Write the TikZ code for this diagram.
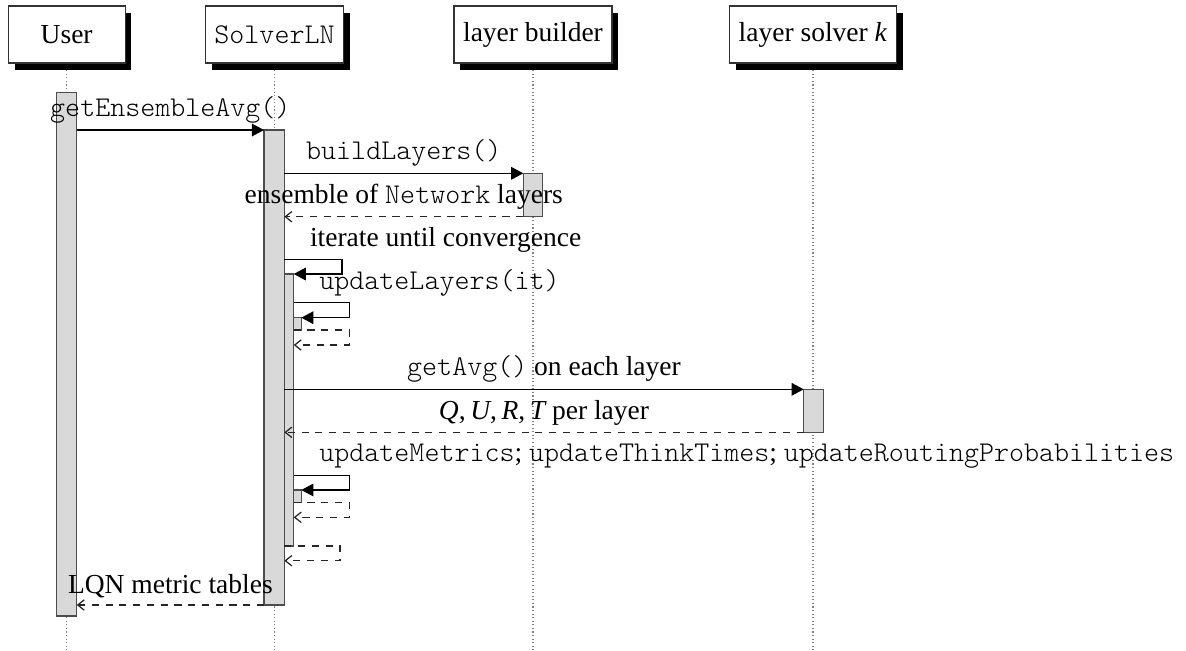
\documentclass[tikz,border=0pt]{standalone}
\usepackage{fontspec}
\setmainfont{Liberation Serif}
\setmonofont{lmmonolt10-regular.otf}[Scale=1.04]
\usetikzlibrary{arrows.meta,shadows,calc}
\newdimen\pxu
\pxu=0.363636pt
% activation bar: name, left x, top y, width, height (in pixel units)
\newcommand\actbox[5]{\node[actbar, minimum width=#4\pxu, minimum height=#5\pxu] (#1) at (#2,#3) {};}
\tikzset{
  thread/.style={draw=black!80, fill=white, minimum width=42.5pt, minimum height=20.7pt,
    inner sep=3.33pt, outer sep=0pt,
    drop shadow={shadow xshift=2.3pt, shadow yshift=-2.5pt, fill=black, opacity=1}},
  actbar/.style={draw=black!70, fill=gray!30, inner sep=0pt, outer sep=0pt, anchor=north west},
  lifeline/.style={draw=gray, dash pattern=on 0.4pt off 0.9pt},
  call/.style={draw=black, -{Triangle[length=4.4pt,width=4.6pt]}},
  ret/.style={draw=black!85, line width=0.45pt, dash pattern=on 2.6pt off 2.4pt, -{Straight Barb[length=2.4pt,width=3.8pt]}},
  lbl/.style={above, yshift=-1pt, inner sep=3.33pt},
  selflbl/.style={anchor=south west, yshift=-1pt, inner sep=3.33pt}
}
\begin{document}
\begin{tikzpicture}[x=\pxu, y=-\pxu]
\useasboundingbox (0,0) rectangle (1186,650);

% lifelines
\coordinate (uend) at (66.7,650);
\coordinate (send) at (274.5,650);
\coordinate (bend) at (533,650);
\coordinate (kend) at (813,650);
\coordinate (utop) at (66.7,63);
\coordinate (stop) at (274.5,63);
\coordinate (btop) at (533,63);
\coordinate (ktop) at (813,63);
\draw[lifeline] (utop) -- (uend);
\draw[lifeline] (stop) -- (send);
\draw[lifeline] (btop) -- (bend);
\draw[lifeline] (ktop) -- (kend);

% participants
\node[thread] (user) at (66.7,34.5) {User};
\node[thread] (solver) at (274.5,34.5) {\texttt{SolverLN}};
\node[thread] (builder) at (533,34.5) {layer builder};
\node[thread] (lsolver) at (813,34.5) {layer solver \textit{k}};

% activation bars
\actbox{ubar}{56.7}{92.7}{20}{523.3}
\actbox{sbar}{264}{130}{20.3}{475}
\actbox{bbar}{523.3}{173.3}{19.4}{43.4}
\actbox{kbar}{803.7}{389.3}{20}{43}
\actbox{nbar}{284.3}{274}{9.4}{272}
\actbox{tbara}{293.7}{317.7}{7.6}{12.3}
\actbox{tbarb}{293.7}{490}{7.6}{12.7}

% getEnsembleAvg
\draw[call] (ubar.east |- sbar.north) -- node[lbl] (l1) {\texttt{getEnsembleAvg()}} (sbar.north west);

% buildLayers
\draw[call] (sbar.east |- bbar.north) -- node[lbl] (l2) {\texttt{buildLayers()}} (bbar.north west);
\draw[ret] (bbar.south west) -- node[lbl] (l3) {ensemble of \texttt{Network} layers} (sbar.east |- bbar.south);

% iteration loop
\coordinate (sca) at (342,259.3);
\draw[call] (sbar.east |- sca) -- (sca) |- (nbar.north east);
\node[selflbl] (l4) at ($(sbar.east |- sca)+(16,0)$) {iterate until convergence};

% updateLayers
\coordinate (scb) at (349.3,302.7);
\coordinate (rcb) at (349.3,345);
\draw[call] (nbar.east |- scb) -- (scb) |- (tbara.north east);
\node[selflbl] (l5) at ($(nbar.east |- scb)+(16,0)$) {\texttt{updateLayers(it)}};
\draw[ret] (tbara.south west) -| (rcb) -- (nbar.east |- rcb);

% per-layer solution
\draw[call] (sbar.east |- kbar.north) -- node[lbl] (l6) {\texttt{getAvg()} on each layer} (kbar.north west);
\draw[ret] (kbar.south west) -- node[lbl] (l7) {{\itshape Q},\,{\itshape U},\,{\itshape R},\,{\itshape T} per layer} (sbar.east |- kbar.south);

% metric updates
\coordinate (scc) at (349.3,475.7);
\coordinate (rcc) at (349.3,517.3);
\draw[call] (nbar.east |- scc) -- (scc) |- (tbarb.north east);
\node[selflbl] (l8) at ($(nbar.east |- scc)+(16,0)$) {\texttt{updateMetrics}; \texttt{updateThinkTimes}; \texttt{updateRoutingProbabilities}};
\draw[ret] (tbarb.south west) -| (rcc) -- (nbar.east |- rcc);

% end of loop
\coordinate (rcd) at (340,560.7);
\draw[ret] (nbar.south west) -| (rcd) -- (sbar.east |- rcd);

% results back to the user
\draw[ret] (sbar.south west) -- node[lbl] (l9) {LQN metric tables} (ubar.east |- sbar.south);
\end{tikzpicture}
\end{document}
